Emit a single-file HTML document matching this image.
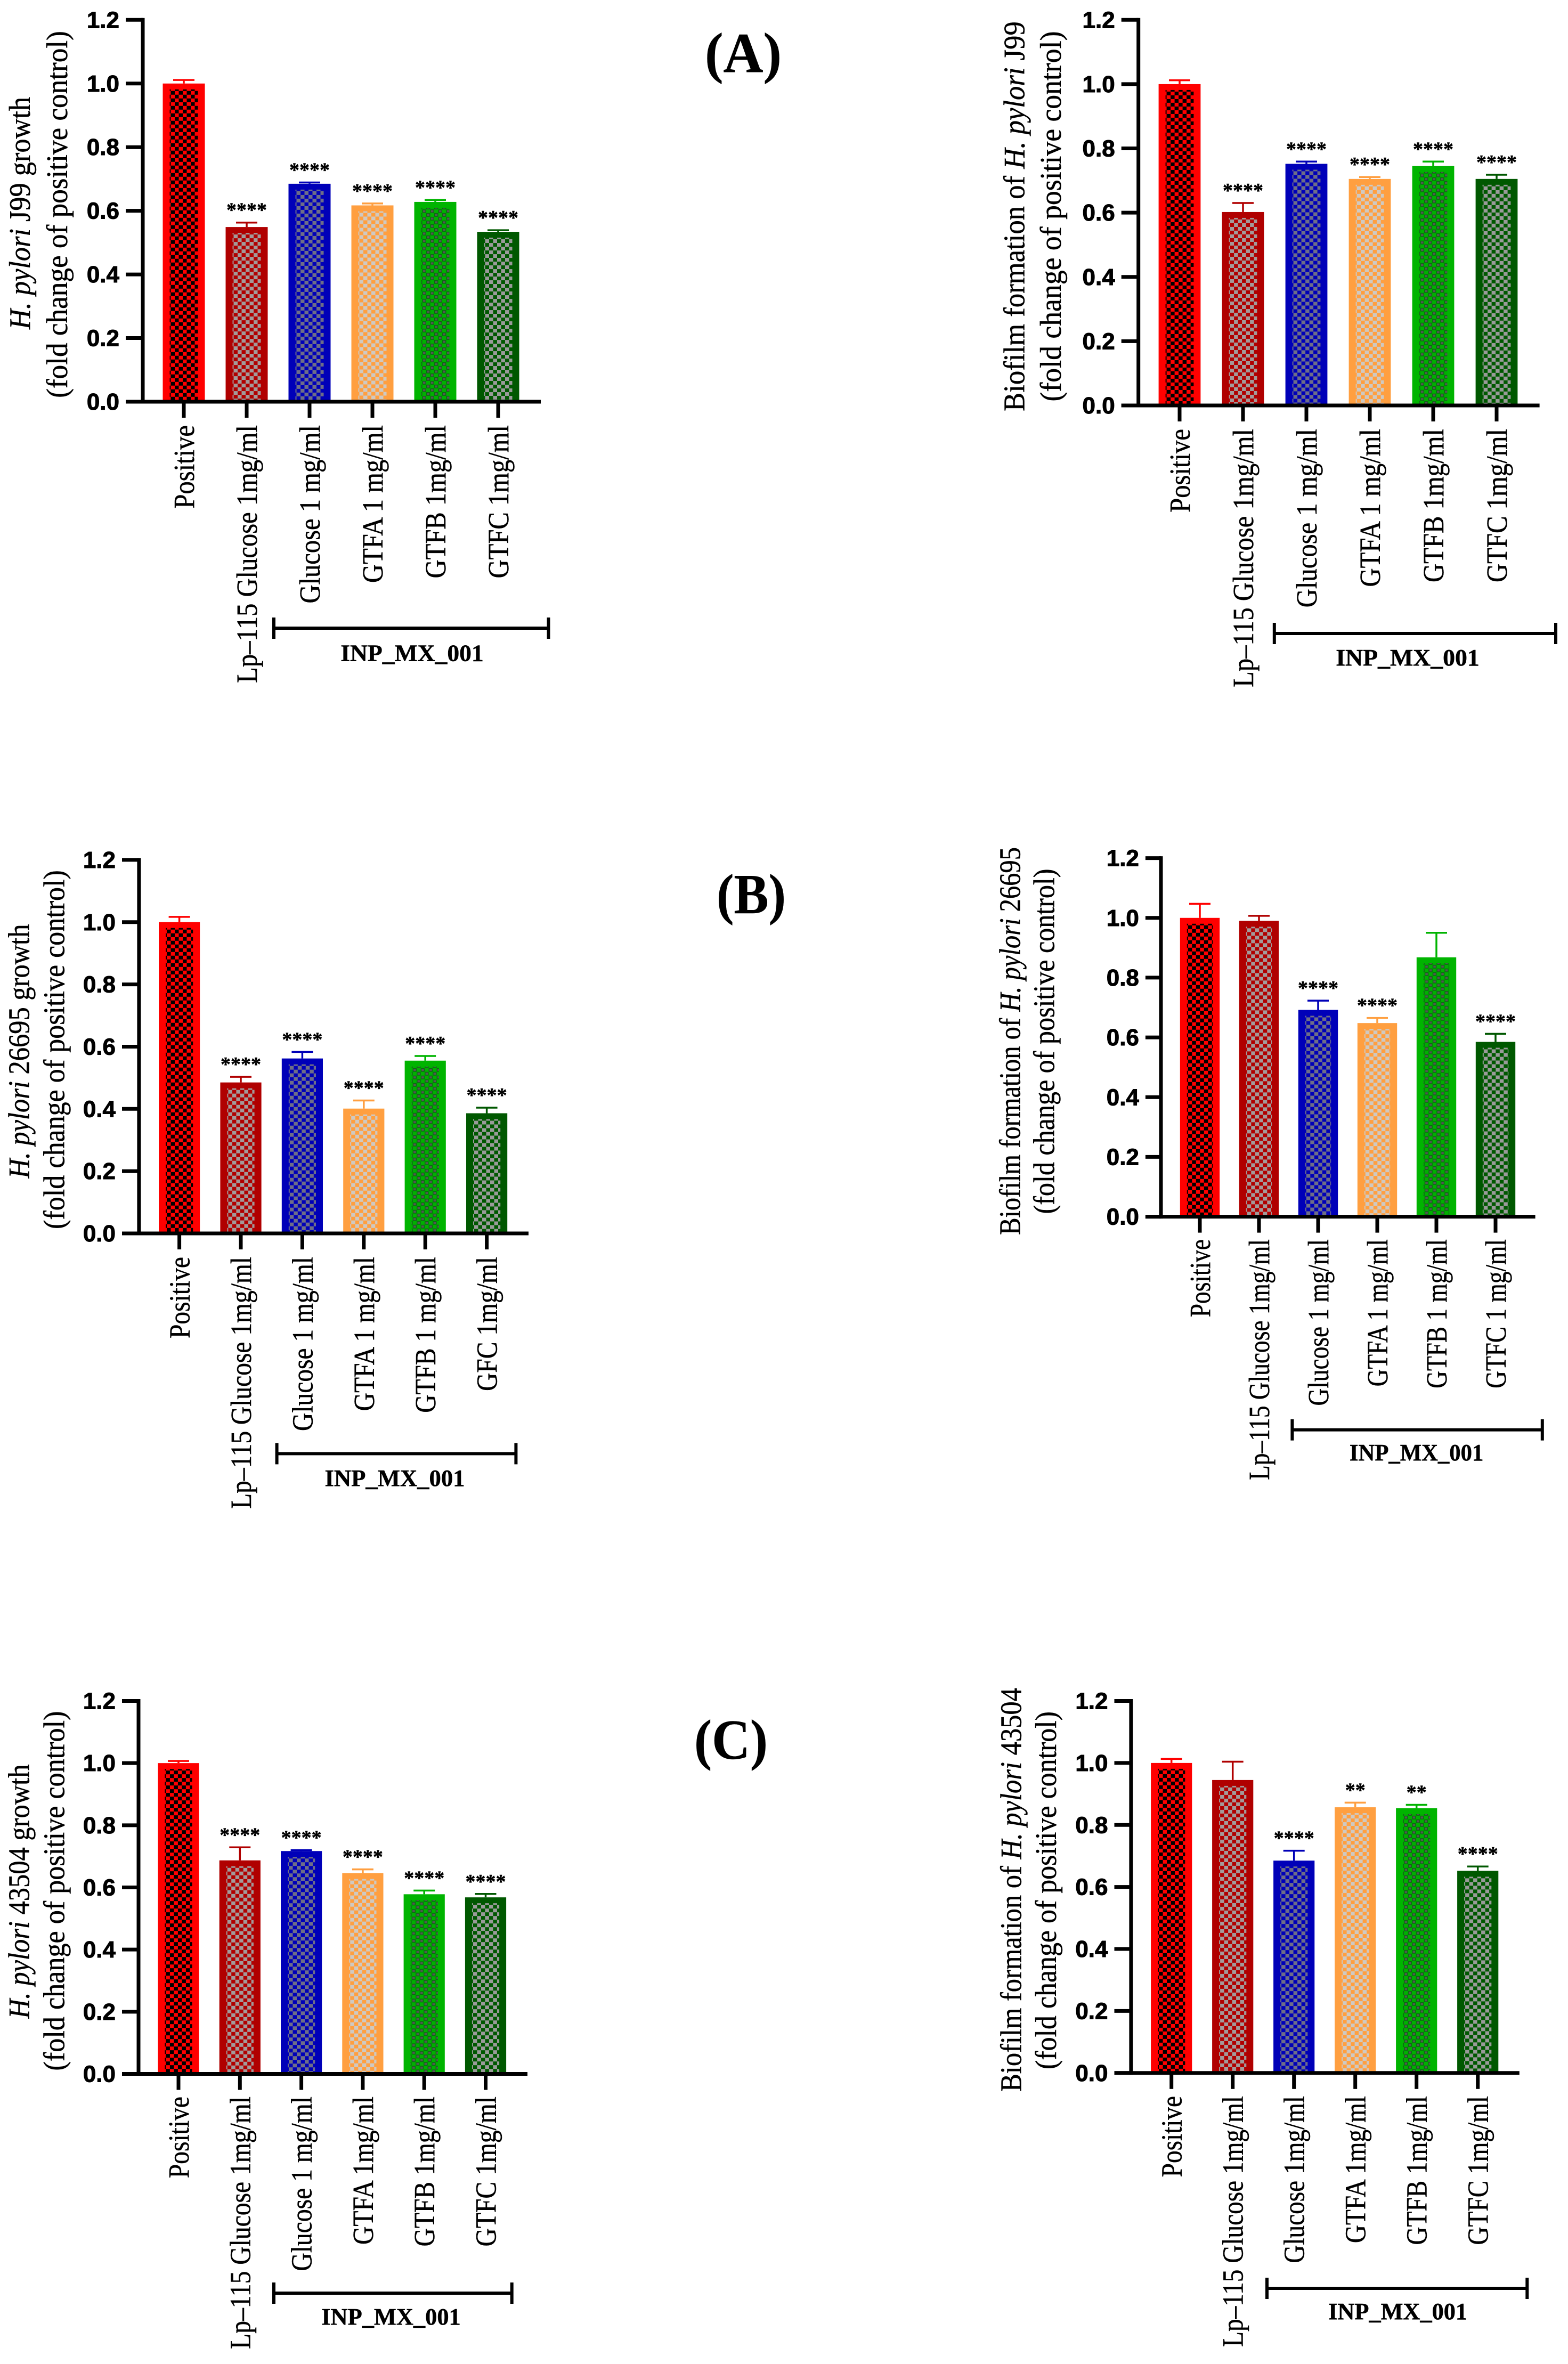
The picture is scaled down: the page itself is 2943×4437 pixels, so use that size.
<!DOCTYPE html>
<html lang="en">
<head>
<meta charset="utf-8">
<title>H. pylori growth and biofilm formation</title>
<style>
html,body{margin:0;padding:0;background:#fff;}
svg{display:block;}
.serif{font-family:"Liberation Serif",serif;fill:#000;stroke:#000;stroke-width:0.5px;}
.sans{font-family:"Liberation Sans",sans-serif;font-weight:bold;fill:#000;stroke:#000;stroke-width:1px;}
</style>
</head>
<body>
<svg id="figure" xmlns="http://www.w3.org/2000/svg" width="2943" height="4437" viewBox="0 0 2943 4437">
  <rect width="2943" height="4437" fill="#fff"/>
  <defs>
    <pattern id="check-red" width="15" height="14" patternUnits="userSpaceOnUse"><rect width="15" height="14" fill="#ff0000"/><rect width="7.5" height="7" fill="#000"/><rect x="7.5" y="7" width="7.5" height="7" fill="#000"/></pattern>
    <pattern id="check-darkred" width="15" height="14" patternUnits="userSpaceOnUse"><rect width="15" height="14" fill="#b00000"/><rect width="7.5" height="7" fill="#a39a9a"/><rect x="7.5" y="7" width="7.5" height="7" fill="#a39a9a"/></pattern>
    <pattern id="check-blue" width="15" height="14" patternUnits="userSpaceOnUse"><rect width="15" height="14" fill="#0000b8"/><rect width="7.5" height="7" fill="#6e6e88"/><rect x="7.5" y="7" width="7.5" height="7" fill="#6e6e88"/></pattern>
    <pattern id="check-orange" width="15" height="14" patternUnits="userSpaceOnUse"><rect width="15" height="14" fill="#ff9f40"/><rect width="7.5" height="7" fill="#cfc9c2"/><rect x="7.5" y="7" width="7.5" height="7" fill="#cfc9c2"/></pattern>
    <pattern id="check-green" width="15" height="14" patternUnits="userSpaceOnUse"><rect width="15" height="14" fill="#00b000"/><rect width="7.5" height="7" fill="#0a6a10"/><rect x="7.5" y="7" width="7.5" height="7" fill="#0a6a10"/><rect x="1.5" y="1.5" width="4.5" height="4" fill="#555"/><rect x="9" y="8.5" width="4.5" height="4" fill="#555"/></pattern>
    <pattern id="check-darkgreen" width="15" height="14" patternUnits="userSpaceOnUse"><rect width="15" height="14" fill="#005800"/><rect width="7.5" height="7" fill="#9a9a9a"/><rect x="7.5" y="7" width="7.5" height="7" fill="#9a9a9a"/></pattern>
  </defs>
  <g id="root"></g>
</svg>
<script>
// ---- shared axis ticks and series styling names ----
const tickLabels = ["0.0", "0.2", "0.4", "0.6", "0.8", "1.0", "1.2"];
const tickValues = [0, 0.2, 0.4, 0.6, 0.8, 1.0, 1.2];
const seriesKeys = ["red", "darkred", "blue", "orange", "green", "darkgreen"];
const seriesColors = ["#ff0000", "#b00000", "#0000b8", "#ff9f40", "#00b400", "#005800"];

// ---- J99 growth ----
const j99GrowthCategories = ["Positive", "Lp\u2013115 Glucose 1mg/ml", "Glucose 1 mg/ml", "GTFA 1 mg/ml", "GTFB 1mg/ml", "GTFC 1mg/ml"];
const j99GrowthValues = [1.0, 0.549, 0.685, 0.617, 0.628, 0.534];
const j99GrowthErrors = [0.011, 0.014, 0.004, 0.006, 0.006, 0.005];
const j99GrowthStars = ["", "****", "****", "****", "****", "****"];

// ---- J99 biofilm ----
const j99BiofilmCategories = ["Positive", "Lp\u2013115 Glucose 1mg/ml", "Glucose 1 mg/ml", "GTFA 1 mg/ml", "GTFB 1mg/ml", "GTFC 1mg/ml"];
const j99BiofilmValues = [1.0, 0.602, 0.752, 0.705, 0.745, 0.705];
const j99BiofilmErrors = [0.012, 0.028, 0.007, 0.006, 0.014, 0.013];
const j99BiofilmStars = ["", "****", "****", "****", "****", "****"];

// ---- 26695 growth ----
const s26695GrowthCategories = ["Positive", "Lp\u2013115 Glucose 1mg/ml", "Glucose 1 mg/ml", "GTFA 1 mg/ml", "GTFB 1 mg/ml", "GFC 1mg/ml"];
const s26695GrowthValues = [1.0, 0.485, 0.562, 0.401, 0.555, 0.386];
const s26695GrowthErrors = [0.017, 0.018, 0.021, 0.026, 0.015, 0.018];
const s26695GrowthStars = ["", "****", "****", "****", "****", "****"];

// ---- 26695 biofilm ----
const s26695BiofilmCategories = ["Positive", "Lp\u2013115 Glucose 1mg/ml", "Glucose 1 mg/ml", "GTFA 1 mg/ml", "GTFB 1 mg/ml", "GTFC 1 mg/ml"];
const s26695BiofilmValues = [1.0, 0.99, 0.692, 0.648, 0.868, 0.585];
const s26695BiofilmErrors = [0.047, 0.017, 0.031, 0.017, 0.082, 0.027];
const s26695BiofilmStars = ["", "", "****", "****", "", "****"];

// ---- 43504 growth ----
const s43504GrowthCategories = ["Positive", "Lp\u2013115 Glucose 1mg/ml", "Glucose 1 mg/ml", "GTFA 1mg/ml", "GTFB 1mg/ml", "GTFC 1mg/ml"];
const s43504GrowthValues = [1.0, 0.687, 0.717, 0.646, 0.578, 0.568];
const s43504GrowthErrors = [0.007, 0.042, 0.003, 0.012, 0.012, 0.011];
const s43504GrowthStars = ["", "****", "****", "****", "****", "****"];

// ---- 43504 biofilm ----
const s43504BiofilmCategories = ["Positive", "Lp\u2013115 Glucose 1mg/ml", "Glucose 1mg/ml", "GTFA 1mg/ml", "GTFB 1mg/ml", "GTFC 1mg/ml"];
const s43504BiofilmValues = [1.0, 0.945, 0.685, 0.857, 0.854, 0.652];
const s43504BiofilmErrors = [0.013, 0.059, 0.032, 0.015, 0.011, 0.014];
const s43504BiofilmStars = ["", "", "****", "**", "**", "****"];

const NS = "http://www.w3.org/2000/svg";
const root = document.getElementById("root");

function make(tag, parent, attrs) {
  const n = document.createElementNS(NS, tag);
  for (const k in attrs) n.setAttribute(k, attrs[k]);
  parent.appendChild(n);
  return n;
}

function addRuns(textEl, runs) {
  runs.forEach(function (r) {
    const t = make("tspan", textEl, {});
    t.setAttribute("xml:space", "preserve");
    t.style.whiteSpace = "pre";
    if (r[1]) t.setAttribute("font-style", "italic");
    t.textContent = r[0];
  });
}

const panels = [
  { id: "j99-growth", cats: j99GrowthCategories, vals: j99GrowthValues, errs: j99GrowthErrors, stars: j99GrowthStars,
    axisX: 268, top: 37.3, base: 754, tickLeft: 236, xEnd: 1015, x0: 345, dx: 118, half: 39.5,
    brL: 514, brR: 1029.5, brY: 1179, inpX: 773.5, inpY: 1240.7, inpW: 268.6, labTop: 798, lpLen: 484,
    title1: [["H. pylori", true], [" J99 growth", false]], t1x: 56, t1c: 400, t1l: 436,
    t2x: 126, t2c: 402.5, t2l: 689 },
  { id: "j99-biofilm", cats: j99BiofilmCategories, vals: j99BiofilmValues, errs: j99BiofilmErrors, stars: j99BiofilmStars,
    axisX: 2136.7, top: 37.3, base: 761, tickLeft: 2104.7, xEnd: 2889.6, x0: 2214, dx: 119, half: 39.4,
    brL: 2391.8, brR: 2920, brY: 1189, inpX: 2642, inpY: 1249, inpW: 269.7, labTop: 805, lpLen: 485,
    title1: [["Biofilm formation of ", false], ["H. pylori", true], [" J99", false]], t1x: 1922.4, t1c: 406, t1l: 732,
    t2x: 1991, t2c: 406, t2l: 695 },
  { id: "26695-growth", cats: s26695GrowthCategories, vals: s26695GrowthValues, errs: s26695GrowthErrors, stars: s26695GrowthStars,
    axisX: 260.9, top: 1613.9, base: 2315, tickLeft: 229, xEnd: 992, x0: 336.6, dx: 115.4, half: 38.6,
    brL: 519.6, brR: 968.4, brY: 2728.4, inpX: 741, inpY: 2789, inpW: 263, labTop: 2359, lpLen: 473,
    title1: [["H. pylori", true], [" 26695 growth", false]], t1x: 54.7, t1c: 1973, t1l: 477,
    t2x: 120.6, t2c: 1970, t2l: 674 },
  { id: "26695-biofilm", cats: s26695BiofilmCategories, vals: s26695BiofilmValues, errs: s26695BiofilmErrors, stars: s26695BiofilmStars,
    axisX: 2179, top: 1610.6, base: 2283.6, tickLeft: 2149.9, xEnd: 2881.6, x0: 2252, dx: 111, half: 37.2,
    brL: 2425.4, brR: 2894.8, brY: 2683.6, inpX: 2658.6, inpY: 2741, inpW: 251.5, labTop: 2326, lpLen: 452,
    title1: [["Biofilm formation of ", false], ["H. pylori", true], [" 26695", false]], t1x: 1914.4, t1c: 1954, t1l: 728,
    t2x: 1978.6, t2c: 1954.5, t2l: 648 },
  { id: "43504-growth", cats: s43504GrowthCategories, vals: s43504GrowthValues, errs: s43504GrowthErrors, stars: s43504GrowthStars,
    axisX: 260, top: 3192.5, base: 3892.5, tickLeft: 229, xEnd: 990, x0: 335, dx: 115.3, half: 38.6,
    brL: 514, brR: 960.7, brY: 4304, inpX: 734, inpY: 4363, inpW: 261.6, labTop: 3935, lpLen: 474,
    title1: [["H. pylori", true], [" 43504 growth", false]], t1x: 54.7, t1c: 3550, t1l: 477,
    t2x: 120.6, t2c: 3549, t2l: 675 },
  { id: "43504-biofilm", cats: s43504BiofilmCategories, vals: s43504BiofilmValues, errs: s43504BiofilmErrors, stars: s43504BiofilmStars,
    axisX: 2122.9, top: 3192.5, base: 3890.8, tickLeft: 2091.5, xEnd: 2851.8, x0: 2198.7, dx: 115, half: 38.6,
    brL: 2378, brR: 2866.3, brY: 4295, inpX: 2623.6, inpY: 4353, inpW: 261, labTop: 3934, lpLen: 471,
    title1: [["Biofilm formation of ", false], ["H. pylori", true], [" 43504", false]], t1x: 1916.6, t1c: 3547, t1l: 758,
    t2x: 1982, t2c: 3548, t2l: 672 }
];

function drawPanel(p) {
  const g = make("g", root, {});
  
  

  // axis functions
  const yScale = function (v) { return p.base - (v / 1.2) * (p.base - p.top); };
  const xScale = function (i) { return p.x0 + i * p.dx; };

  // bars
  p.vals.forEach(function (v, i) {
    const cx = xScale(i), y = yScale(v), color = seriesColors[i];
    const barG = make("g", g, { transform: "translate(" + (cx - p.half) + "," + y + ")" });
    
    
    const h = p.base - y, w = p.half * 2;
    make("rect", barG, { x: 0, y: 0, width: w, height: h, fill: color });
    make("rect", barG, { x: 13, y: 11, width: w - 26, height: Math.max(0, h - 11), fill: "url(#check-" + seriesKeys[i] + ")" });

    // error bar
    const errTop = yScale(v + p.errs[i]);
    const errG = make("g", g, {});
    
    
    make("line", errG, { x1: cx, x2: cx, y1: y, y2: errTop, stroke: color, "stroke-width": 3.5 });
    make("line", errG, { x1: cx - 20, x2: cx + 20, y1: errTop, y2: errTop, stroke: color, "stroke-width": 3.5 });

    // significance stars
    if (p.stars[i]) {
      const s = make("text", g, { x: cx, y: errTop - 11, "text-anchor": "middle", "font-size": 38, "font-weight": "bold", class: "serif" });
      
      
      s.textContent = p.stars[i];
    }
  });

  // y axis
  const yAxis = make("line", g, { x1: p.axisX, x2: p.axisX, y1: p.top - 3.5, y2: p.base + 3.5, stroke: "#000", "stroke-width": 7 });
  
  
  // x axis
  const xAxis = make("line", g, { x1: p.tickLeft, x2: p.xEnd, y1: p.base, y2: p.base, stroke: "#000", "stroke-width": 7 });
  
  

  tickValues.forEach(function (t, i) {
    const ty = yScale(t);
    const tick = make("line", g, { x1: p.tickLeft, x2: p.axisX, y1: ty, y2: ty, stroke: "#000", "stroke-width": 7 });
    
    
    const lab = make("text", g, { x: p.tickLeft - 12, y: ty + 15, "text-anchor": "end", "font-size": 44, class: "sans" });
    
    
    lab.textContent = tickLabels[i];
  });

  // x ticks and rotated labels
  const labelFont = 55;
  const probe = make("text", g, { "font-size": labelFont, class: "serif" });
  probe.textContent = p.cats[1];
  const labelScale = p.lpLen / probe.getComputedTextLength();
  g.removeChild(probe);

  p.cats.forEach(function (c, i) {
    const cx = xScale(i);
    const tick = make("line", g, { x1: cx, x2: cx, y1: p.base, y2: p.base + 30, stroke: "#000", "stroke-width": 7 });
    
    
    const lab = make("text", g, {
      transform: "translate(" + (cx + 19) + "," + p.labTop + ") rotate(-90) scale(" + labelScale + ",1)",
      "text-anchor": "end", "font-size": labelFont, class: "serif"
    });
    
    
    lab.textContent = c;
  });

  // bracket
  const br = make("g", g, {});
  
  
  make("line", br, { x1: p.brL, x2: p.brR, y1: p.brY, y2: p.brY, stroke: "#000", "stroke-width": 6 });
  make("line", br, { x1: p.brL, x2: p.brL, y1: p.brY - 20, y2: p.brY + 20, stroke: "#000", "stroke-width": 6 });
  make("line", br, { x1: p.brR, x2: p.brR, y1: p.brY - 20, y2: p.brY + 20, stroke: "#000", "stroke-width": 6 });

  const inp = make("text", g, { "text-anchor": "middle", "font-size": 44, "font-weight": "bold", class: "serif" });
  
  
  inp.textContent = "INP_MX_001";
  inp.setAttribute("transform", "translate(" + p.inpX + "," + p.inpY + ") scale(" + (p.inpW / inp.getComputedTextLength()) + ",1)");

  // y-axis title lines
  const t1 = make("text", g, { "text-anchor": "middle", "font-size": 56, class: "serif" });
  
  
  addRuns(t1, p.title1);
  t1.setAttribute("transform", "translate(" + p.t1x + "," + p.t1c + ") rotate(-90) scale(" + (p.t1l / t1.getComputedTextLength()) + ",1)");

  const t2 = make("text", g, { "text-anchor": "middle", "font-size": 56, class: "serif" });
  
  
  t2.textContent = "(fold change of positive control)";
  t2.setAttribute("transform", "translate(" + p.t2x + "," + p.t2c + ") rotate(-90) scale(" + (p.t2l / t2.getComputedTextLength()) + ",1)");
}

panels.forEach(drawPanel);

// panel letters
const letterA = make("text", root, { "text-anchor": "middle", "font-size": 106, "font-weight": "bold", class: "serif" });


letterA.textContent = "(A)";
letterA.setAttribute("transform", "translate(1395,135) scale(" + (144 / letterA.getComputedTextLength()) + ",1)");

const letterB = make("text", root, { "text-anchor": "middle", "font-size": 106, "font-weight": "bold", class: "serif" });


letterB.textContent = "(B)";
letterB.setAttribute("transform", "translate(1410,1714) scale(" + (130 / letterB.getComputedTextLength()) + ",1)");

const letterC = make("text", root, { "text-anchor": "middle", "font-size": 106, "font-weight": "bold", class: "serif" });


letterC.textContent = "(C)";
letterC.setAttribute("transform", "translate(1372,3301) scale(" + (138 / letterC.getComputedTextLength()) + ",1)");
</script>
</body>
</html>
